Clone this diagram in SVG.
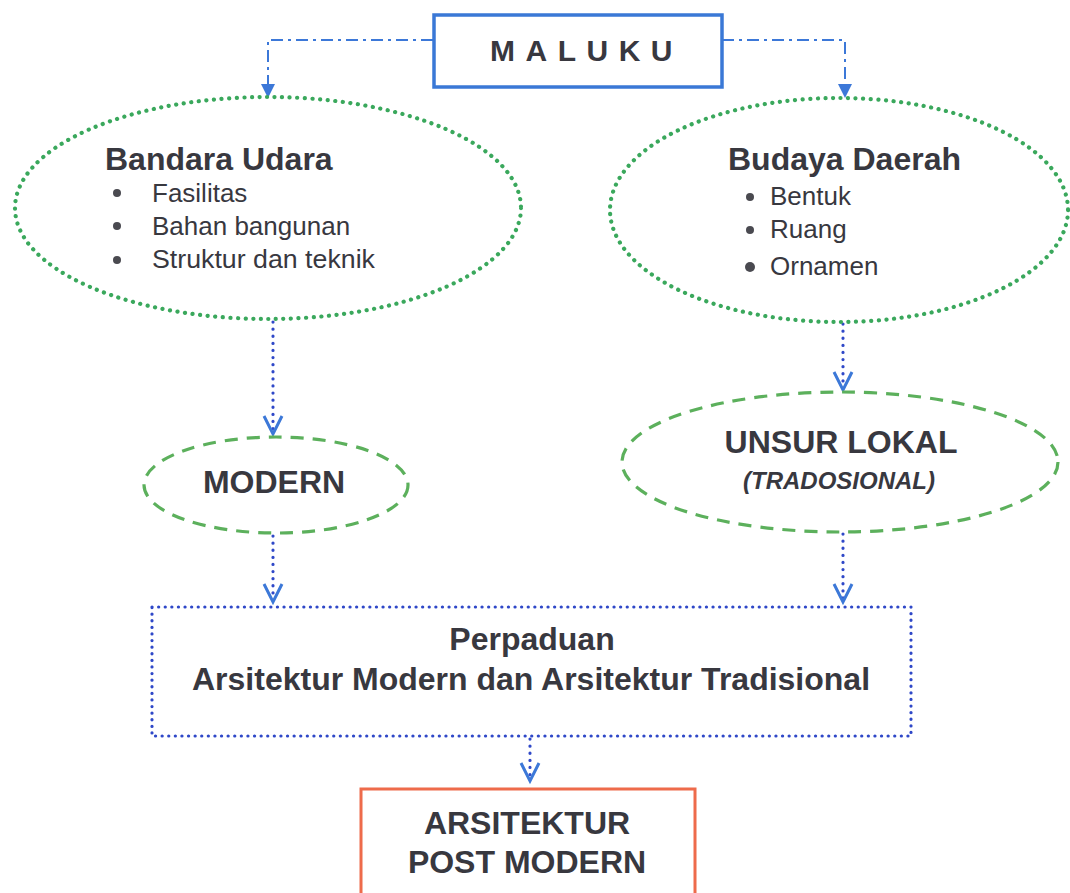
<svg xmlns="http://www.w3.org/2000/svg" width="1070" height="893" viewBox="0 0 1070 893">
<defs>
<style>
.t{font-family:"Liberation Sans",Arial,sans-serif;fill:#38383f}
.b{font-weight:bold;font-size:32px}
.li{font-size:26px}
.dotg{fill:none;stroke:#3aa85c;stroke-width:4.2;stroke-linecap:round;stroke-dasharray:0.1 7.5}
.dashg{fill:none;stroke:#5cb05c;stroke-width:3.2;stroke-dasharray:13 9}
.conn{fill:none;stroke:#2f48c8;stroke-width:3.2;stroke-linecap:round;stroke-dasharray:0.1 7}
.dd{fill:none;stroke:#3c78d8;stroke-width:2;stroke-dasharray:12 5 3 5}
.vh{fill:none;stroke:#3c78d8;stroke-width:3;stroke-linejoin:miter}
.bul{fill:#4a4a50}
</style>
</defs>
<rect width="1070" height="893" fill="#ffffff"/>
<g id="connectors">
<polyline class="dd" points="433,40 268,40 268,86"/>
<polygon points="261,84 275,84 268,98" fill="#3c78d8"/>
<polyline class="dd" points="722,40 845,40 845,86"/>
<polygon points="838,84 852,84 845,98" fill="#3c78d8"/>
<line class="conn" x1="273" y1="322" x2="273" y2="430"/>
<polyline class="vh" points="264,416 273,434 282,416"/>
<line class="conn" x1="843" y1="324" x2="843" y2="386"/>
<polyline class="vh" points="834,372 843,390 852,372"/>
<line class="conn" x1="273" y1="536" x2="273" y2="598"/>
<polyline class="vh" points="264,584 273,602 282,584"/>
<line class="conn" x1="843" y1="534" x2="843" y2="598"/>
<polyline class="vh" points="834,584 843,602 852,584"/>
<line class="conn" x1="530" y1="739" x2="530" y2="777"/>
<polyline class="vh" points="521,763 530,781 539,763"/>
</g>
<g id="maluku">
<rect x="434" y="15" width="288" height="72" fill="#ffffff" stroke="#3a78d6" stroke-width="3.5"/>
<text class="t" x="490" y="61" font-size="30" font-weight="bold" letter-spacing="10.5">MALUKU</text>
</g>
<g id="bandara">
<ellipse class="dotg" cx="268" cy="208" rx="253" ry="111"/>
<text class="t b" x="105" y="170">Bandara Udara</text>
<circle class="bul" cx="117" cy="193" r="4"/>
<circle class="bul" cx="117" cy="226" r="4"/>
<circle class="bul" cx="117" cy="260" r="4"/>
<text class="t li" x="152" y="202">Fasilitas</text>
<text class="t li" x="152" y="235">Bahan bangunan</text>
<text class="t li" x="152" y="268" textLength="223" lengthAdjust="spacingAndGlyphs">Struktur dan teknik</text>
</g>
<g id="budaya">
<ellipse class="dotg" cx="839" cy="210" rx="229" ry="112"/>
<text class="t b" x="728" y="170">Budaya Daerah</text>
<circle class="bul" cx="750" cy="197" r="4"/>
<circle class="bul" cx="750" cy="230" r="4"/>
<circle class="bul" cx="750" cy="267" r="5"/>
<text class="t li" x="770" y="205">Bentuk</text>
<text class="t li" x="770" y="238">Ruang</text>
<text class="t li" x="770" y="275">Ornamen</text>
</g>
<g id="modern">
<ellipse class="dashg" cx="276" cy="485" rx="132" ry="48"/>
<text class="t b" x="274" y="493" text-anchor="middle">MODERN</text>
</g>
<g id="unsur">
<ellipse class="dashg" cx="840" cy="462" rx="218" ry="70"/>
<text class="t b" x="841" y="453" text-anchor="middle">UNSUR LOKAL</text>
<text class="t" x="839" y="489" text-anchor="middle" font-size="24" font-weight="bold" font-style="italic">(TRADOSIONAL)</text>
</g>
<g id="perpaduan">
<rect x="152" y="607" width="759" height="129" fill="none" stroke="#2f48c8" stroke-width="3.2" stroke-linecap="round" stroke-dasharray="0.1 6.5"/>
<text class="t b" x="532" y="650" text-anchor="middle">Perpaduan</text>
<text class="t b" x="531" y="690" text-anchor="middle">Arsitektur Modern dan Arsitektur Tradisional</text>
</g>
<g id="postmodern">
<rect x="361" y="789" width="334" height="120" fill="#ffffff" stroke="#ee6b4b" stroke-width="3"/>
<text class="t b" x="527" y="834" text-anchor="middle">ARSITEKTUR</text>
<text class="t b" x="527" y="873" text-anchor="middle">POST MODERN</text>
</g>
</svg>
